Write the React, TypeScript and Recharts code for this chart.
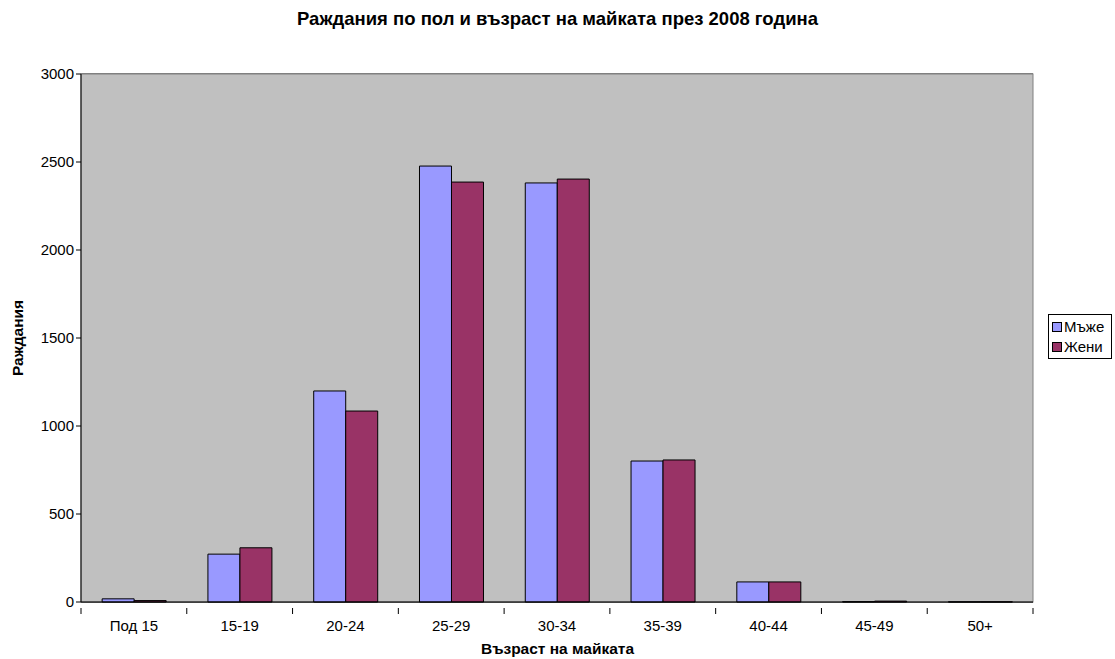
import React from 'react';
import { BarChart, Bar, XAxis, YAxis, CartesianGrid, Customized } from 'recharts';

const ageGroups = ['Под 15', '15-19', '20-24', '25-29', '30-34', '35-39', '40-44', '45-49', '50+'];
const boys = [18, 272, 1199, 2477, 2381, 801, 114, 2, 1];
const girls = [8, 308, 1085, 2386, 2403, 807, 114, 5, 1];
const yTicks = [0, 500, 1000, 1500, 2000, 2500, 3000];

const data = ageGroups.map((g, i) => ({ group: g, boys: boys[i], girls: girls[i] }));

const W = 1115;
const H = 659;
const plotLeft = 81;
const plotRight = 1033;
const plotTop = 74;
const plotBottom = 602;
const halfBand = (plotRight - plotLeft) / ageGroups.length / 2;
const font = 'Arial, "Liberation Sans", sans-serif';

// Excel-style category ticks: marks sit between the categories
const CategoryTick = (props: any) => {
  const { x, y, payload, index } = props;
  const isLast = index === ageGroups.length - 1;
  return (
    <g>
      <line x1={x - halfBand} x2={x - halfBand} y1={y - 2} y2={y + 4} stroke="#000" />
      {isLast && <line x1={x + halfBand} x2={x + halfBand} y1={y - 2} y2={y + 4} stroke="#000" />}
      <text x={x} y={y + 21} textAnchor="middle" fontSize={15} fill="#000" fontFamily={font}>
        {payload.value}
      </text>
    </g>
  );
};

const legendItems = [
  { label: 'Мъже', color: '#9999FF' },
  { label: 'Жени', color: '#993366' },
];

const PlotBackground = () => (
  <rect x={plotLeft} y={plotTop} width={plotRight - plotLeft} height={plotBottom - plotTop} fill="#C0C0C0" stroke="#808080" />
);

export default function App() {
  return (
    <div style={{ position: 'absolute', left: 0, top: 0, width: W, height: H, background: '#fff', fontFamily: font }}>
      <div
        style={{
          position: 'absolute',
          top: 8,
          left: 0,
          width: W,
          textAlign: 'center',
          fontWeight: 'bold',
          fontSize: 18.5,
        }}
      >
        Раждания по пол и възраст на майката през 2008 година
      </div>
      <div
        style={{
          position: 'absolute',
          top: 640,
          left: 0,
          width: W,
          textAlign: 'center',
          fontWeight: 'bold',
          fontSize: 15.5,
        }}
      >
        Възраст на майката
      </div>
      <div
        style={{
          position: 'absolute',
          left: 18,
          top: 338,
          transform: 'translate(-50%, -50%) rotate(-90deg)',
          fontWeight: 'bold',
          fontSize: 15.5,
          whiteSpace: 'nowrap',
        }}
      >
        Раждания
      </div>
      <div
        style={{
          position: 'absolute',
          left: 1048,
          top: 314,
          width: 64,
          height: 45,
          boxSizing: 'border-box',
          border: '1px solid #000',
          background: '#fff',
          padding: '2px 0 0 3px',
          fontSize: 15,
          lineHeight: '20px',
          zIndex: 2,
        }}
      >
        {legendItems.map((it) => (
          <div key={it.label} style={{ display: 'flex', alignItems: 'center' }}>
            <span style={{ width: 8, height: 8, background: it.color, border: '1px solid #000', marginRight: 2 }} />
            {it.label}
          </div>
        ))}
      </div>
      <BarChart
        width={W}
        height={H}
        data={data}
        margin={{ top: plotTop, left: plotLeft - 60, right: W - plotRight, bottom: H - plotBottom - 30 }}
        barCategoryGap="20%"
        barGap={0}
      >
        <Customized component={PlotBackground} />
        <CartesianGrid vertical={false} stroke="#000" strokeWidth={1} fill="none" />
        <XAxis
          dataKey="group"
          height={30}
          axisLine={{ stroke: '#000' }}
          tickLine={false}
          tick={<CategoryTick />}
          interval={0}
        />
        <YAxis
          width={60}
          domain={[0, 3000]}
          ticks={yTicks}
          axisLine={{ stroke: '#000' }}
          tickLine={{ stroke: '#000' }}
          tickSize={5}
          tick={{ fill: '#000', fontSize: 15, fontFamily: font }}
        />
        <Bar dataKey="boys" name="Мъже" fill="#9999FF" stroke="#000" strokeWidth={1} isAnimationActive={false} />
        <Bar dataKey="girls" name="Жени" fill="#993366" stroke="#000" strokeWidth={1} isAnimationActive={false} />
      </BarChart>
    </div>
  );
}
